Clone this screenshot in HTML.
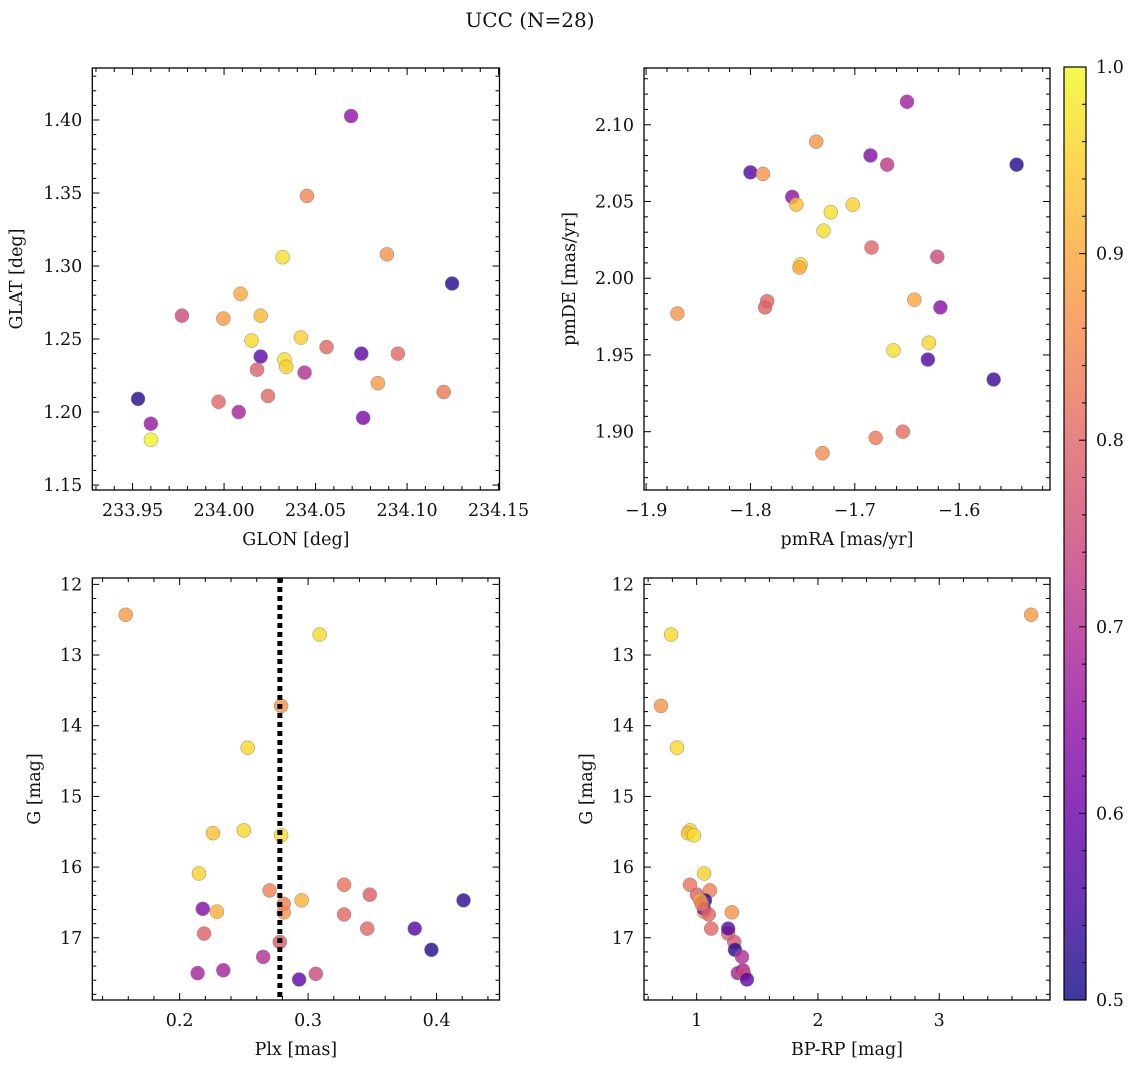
<!DOCTYPE html>
<html><head><meta charset="utf-8"><style>
html,body{margin:0;padding:0;background:#fff;}
svg text{font-family:"DejaVu Serif","Liberation Serif",serif;fill:#111;}
</style></head><body>
<svg id="fig" width="1136" height="1067" viewBox="0 0 1136 1067" xmlns="http://www.w3.org/2000/svg">
<text x="530" y="27" text-anchor="middle" font-size="20">UCC (N=28)</text>
<defs><linearGradient id="cbg" x1="0" y1="1" x2="0" y2="0">
<stop offset="0" stop-color="#0d0887"/><stop offset="0.1" stop-color="#41049d"/><stop offset="0.2" stop-color="#6a00a8"/><stop offset="0.3" stop-color="#8f0da4"/><stop offset="0.4" stop-color="#b12a90"/><stop offset="0.5" stop-color="#cc4778"/><stop offset="0.6" stop-color="#e16462"/><stop offset="0.7" stop-color="#f2844b"/><stop offset="0.8" stop-color="#fca636"/><stop offset="0.9" stop-color="#fcce25"/><stop offset="1" stop-color="#f0f921"/></linearGradient></defs>
</svg>
<script>
// ---- data ----
const glon = [234.0694,234.0453,234.089,234.032,234.1246,234.009,233.977,233.9996,234.020,234.042,234.015,234.056,234.020,234.075,234.095,234.033,234.034,234.018,234.044,234.084,234.120,234.024,233.953,233.997,234.008,234.076,233.960,233.960];
const glat = [1.4027,1.348,1.308,1.306,1.288,1.281,1.266,1.264,1.266,1.251,1.249,1.2445,1.238,1.240,1.240,1.236,1.231,1.229,1.227,1.2198,1.2137,1.211,1.209,1.207,1.200,1.196,1.192,1.181];
const cTL = [0.65,0.85,0.87,0.97,0.52,0.9,0.75,0.88,0.92,0.95,0.96,0.8,0.58,0.58,0.8,0.97,0.95,0.79,0.7,0.88,0.83,0.8,0.52,0.8,0.68,0.62,0.66,1.0];
const pmra = [-1.650,-1.737,-1.685,-1.669,-1.545,-1.800,-1.788,-1.760,-1.756,-1.702,-1.723,-1.730,-1.684,-1.621,-1.752,-1.753,-1.643,-1.784,-1.618,-1.786,-1.870,-1.629,-1.663,-1.630,-1.567,-1.654,-1.680,-1.731];
const pmde = [2.115,2.089,2.080,2.074,2.074,2.069,2.068,2.053,2.048,2.048,2.043,2.031,2.020,2.014,2.009,2.007,1.986,1.985,1.981,1.981,1.977,1.958,1.953,1.947,1.934,1.900,1.896,1.886];
const cTR = [0.67,0.87,0.63,0.72,0.52,0.57,0.87,0.65,0.93,0.95,0.97,0.97,0.8,0.75,0.97,0.9,0.9,0.8,0.64,0.79,0.87,0.96,0.97,0.57,0.54,0.81,0.83,0.86];
const plx = [0.158,0.309,0.279,0.253,0.250,0.226,0.279,0.215,0.328,0.270,0.348,0.421,0.295,0.229,0.281,0.218,0.328,0.219,0.383,0.346,0.278,0.396,0.265,0.234,0.214,0.306,0.293,0.281];
const gmag = [12.43,12.71,13.72,14.31,15.48,15.52,15.55,16.09,16.25,16.33,16.39,16.47,16.47,16.63,16.64,16.59,16.67,16.94,16.87,16.87,17.06,17.17,17.27,17.46,17.50,17.51,17.59,16.52];
const bprp = [3.757,0.789,0.706,0.838,0.945,0.929,0.978,1.061,0.945,1.11,1.003,1.069,1.028,1.061,1.29,1.06,1.10,1.26,1.26,1.12,1.31,1.316,1.374,1.382,1.34,1.39,1.415,1.04];
const cBot = [0.88,0.96,0.87,0.96,0.96,0.93,0.97,0.95,0.82,0.84,0.79,0.53,0.91,0.91,0.87,0.63,0.8,0.79,0.57,0.8,0.78,0.52,0.7,0.68,0.68,0.75,0.58,0.84];
const plxRef = [0.278];
const cbTicks = [0.5,0.6,0.7,0.8,0.9,1.0];

const NS="http://www.w3.org/2000/svg";
const svg=document.getElementById('fig');
function el(tag,attrs,parent){const e=document.createElementNS(NS,tag);for(const k in attrs)e.setAttribute(k,attrs[k]);(parent||svg).appendChild(e);return e;}
const stops=[[0,[13,8,135]],[0.1,[65,4,157]],[0.2,[106,0,168]],[0.3,[143,13,164]],[0.4,[177,42,144]],[0.5,[204,71,120]],[0.6,[225,100,98]],[0.7,[242,132,75]],[0.8,[252,166,54]],[0.9,[252,206,37]],[1,[240,249,33]]];
function plasma(v){let t=(v-0.5)/0.5;t=Math.max(0,Math.min(1,t));for(let i=1;i<stops.length;i++){if(t<=stops[i][0]){const a=stops[i-1],b=stops[i];const f=(t-a[0])/(b[0]-a[0]);const c=a[1].map((x,j)=>Math.round(x+(b[1][j]-x)*f));return `rgb(${c.join(',')})`;}}return 'rgb(240,249,33)';}
function fmt(v,d){const s=v.toFixed(d);return s.replace('-','\u2212');}
const FS=17.5;

function panel(o){
  const g=el('g',{});
  
  
  const sx=v=>o.x0+(v-o.xd[0])/(o.xd[1]-o.xd[0])*(o.x1-o.x0);
  const sy=o.inv?(v=>o.y0+(v-o.yd[0])/(o.yd[1]-o.yd[0])*(o.y1-o.y0)):(v=>o.y1-(v-o.yd[0])/(o.yd[1]-o.yd[0])*(o.y1-o.y0));
  for(let i=0;i<o.xs.length;i++){
    const c=el('circle',{cx:sx(o.xs[i]),cy:sy(o.ys[i]),r:7,fill:plasma(o.cs[i]),'fill-opacity':0.8,stroke:'#888','stroke-width':0.5},g);
    
    
  }
  if(o.vline){o.vline.forEach(v=>{const l=el('line',{x1:sx(v),x2:sx(v),y1:o.y0,y2:o.y1,stroke:'#000','stroke-width':5,'stroke-dasharray':'5 4'},g);
    
    });}
  const f=el('rect',{x:o.x0,y:o.y0,width:o.x1-o.x0,height:o.y1-o.y0,fill:'none',stroke:'#000','stroke-width':1.3},g);
  
  
  const eps=1e-9;
  for(let v=Math.ceil(o.xd[0]/o.xmin-eps)*o.xmin; v<=o.xd[1]+eps; v+=o.xmin){
    const major=Math.abs(v/o.xmaj-Math.round(v/o.xmaj))<1e-4;const L=major?7:4;const x=sx(v);
    el('line',{x1:x,x2:x,y1:o.y1,y2:o.y1-L,stroke:'#000','stroke-width':1},g);
    el('line',{x1:x,x2:x,y1:o.y0,y2:o.y0+L,stroke:'#000','stroke-width':1},g);
    if(major){const t=el('text',{x:x,y:o.y1+26,'text-anchor':'middle','font-size':FS},g);t.textContent=fmt(Math.round(v/o.xmaj)*o.xmaj,o.xdec);
      
      }
  }
  for(let v=Math.ceil(o.yd[0]/o.ymin-eps)*o.ymin; v<=o.yd[1]+eps; v+=o.ymin){
    const major=Math.abs(v/o.ymaj-Math.round(v/o.ymaj))<1e-4;const L=major?7:4;const y=sy(v);
    el('line',{x1:o.x0,x2:o.x0+L,y1:y,y2:y,stroke:'#000','stroke-width':1},g);
    el('line',{x1:o.x1,x2:o.x1-L,y1:y,y2:y,stroke:'#000','stroke-width':1},g);
    if(major){const t=el('text',{x:o.x0-10,y:y+6,'text-anchor':'end','font-size':FS},g);t.textContent=fmt(Math.round(v/o.ymaj)*o.ymaj,o.ydec);
      
      }
  }
  const xl=el('text',{x:(o.x0+o.x1)/2,y:o.y1+55,'text-anchor':'middle','font-size':FS},g);xl.textContent=o.xlabel;
  
  
  const ly=(o.y0+o.y1)/2;const yl=el('text',{x:o.ylx,y:ly,'text-anchor':'middle','font-size':FS,transform:`rotate(-90 ${o.ylx} ${ly})`},g);yl.textContent=o.ylabel;
  
  
}
panel({name:'glon-glat-panel',x0:92.3,x1:499.5,y0:68,y1:490,xd:[233.928,234.1505],yd:[1.1466,1.4356],xs:glon,ys:glat,cs:cTL,xmaj:0.05,xmin:0.01,ymaj:0.05,ymin:0.01,xdec:2,ydec:2,xlabel:'GLON [deg]',ylabel:'GLAT [deg]',ylx:22});
panel({name:'pm-panel',x0:644,x1:1050,y0:68,y1:490,xd:[-1.902,-1.513],yd:[1.862,2.137],xs:pmra,ys:pmde,cs:cTR,xmaj:0.1,xmin:0.02,ymaj:0.05,ymin:0.01,xdec:1,ydec:2,xlabel:'pmRA [mas/yr]',ylabel:'pmDE [mas/yr]',ylx:575});
panel({name:'plx-g-panel',x0:92.3,x1:499.5,y0:578,y1:1000,xd:[0.132,0.449],yd:[11.91,17.88],inv:true,xs:plx,ys:gmag,cs:cBot,vline:plxRef,xmaj:0.1,xmin:0.02,ymaj:1,ymin:0.2,xdec:1,ydec:0,xlabel:'Plx [mas]',ylabel:'G [mag]',ylx:40});
panel({name:'cmd-panel',x0:644,x1:1050,y0:578,y1:1000,xd:[0.566,3.913],yd:[11.91,17.88],inv:true,xs:bprp,ys:gmag,cs:cBot,xmaj:1,xmin:0.2,ymaj:1,ymin:0.2,xdec:0,ydec:0,xlabel:'BP-RP [mag]',ylabel:'G [mag]',ylx:592});
const cb=el('g',{});


const cy0=67,cy1=1000,cx0=1064,cx1=1086;
el('rect',{x:cx0,y:cy0,width:cx1-cx0,height:cy1-cy0,fill:'url(#cbg)','fill-opacity':0.8},cb);
el('rect',{x:cx0,y:cy0,width:cx1-cx0,height:cy1-cy0,fill:'none',stroke:'#000','stroke-width':1.2},cb);
const cby=v=>cy1-(v-0.5)/0.5*(cy1-cy0);
for(let k=0;k<=25;k++){const v=0.5+k*0.02;const y=cby(v);const major=k%5===0;el('line',{x1:cx1,x2:cx1-(major?7:4),y1:y,y2:y,stroke:'#000','stroke-width':1},cb);}
cbTicks.forEach(v=>{const t=el('text',{x:cx1+10,y:cby(v)+6,'font-size':FS},cb);t.textContent=v.toFixed(1);
  
  });
</script>
</body></html>
